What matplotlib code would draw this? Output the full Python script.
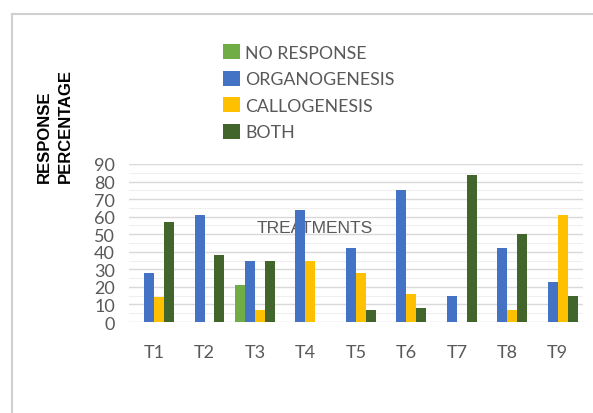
import matplotlib
matplotlib.use("Agg")
import matplotlib.pyplot as plt
import numpy as np
from matplotlib.lines import Line2D
from matplotlib.ticker import MultipleLocator

# response percentage per treatment
treatments = ["T1", "T2", "T3", "T4", "T5", "T6", "T7", "T8", "T9"]
no_response = [0, 0, 21, 0, 0, 0, 0, 0, 0]
organogenesis = [28, 61, 35, 64, 42, 75, 15, 42, 23]
callogenesis = [14, 0, 7, 35, 28, 16, 0, 7, 61]
both = [57, 38, 35, 0, 7, 8, 84, 50, 15]

series = [
    ("NO RESPONSE", no_response, "#70ad47"),
    ("ORGANOGENESIS", organogenesis, "#4472c4"),
    ("CALLOGENESIS", callogenesis, "#ffc000"),
    ("BOTH", both, "#41652a"),
]

W, H = 593, 414
GRAY = "#595959"
fig = plt.figure(figsize=(W / 100, H / 100), dpi=100)
ax = fig.add_axes([128.8 / W, 1 - 323 / H, 454.2 / W, 158 / H])

x = np.arange(len(treatments))
bw = 0.198
for k, (name, vals, col) in enumerate(series):
    ax.bar(x + (k - 1.5) * bw, vals, bw, color=col, label=name, zorder=3)

ax.set_xlim(-0.5, len(treatments) - 0.5)
ax.set_ylim(0, 90)
ax.yaxis.set_major_locator(MultipleLocator(10))
ax.yaxis.set_minor_locator(MultipleLocator(5))
ax.grid(axis="y", which="major", color="#d9d9d9", lw=1.0, zorder=0)
ax.grid(axis="y", which="minor", color="#efefef", lw=0.8, zorder=0)
ax.set_axisbelow(True)
for s in ax.spines.values():
    s.set_visible(False)
ax.set_xticks(x)
ax.set_xticklabels(treatments)
ax.tick_params(axis="both", which="both", length=0, colors=GRAY, labelsize=13)
ax.tick_params(axis="x", pad=16)
ax.tick_params(axis="y", pad=10)
for lbl in ax.get_xticklabels() + ax.get_yticklabels():
    lbl.set_fontfamily("Lato")

# axis title sits inside the plot, behind the bars
ax.text(0.41, 0.60, "TREATMENTS", transform=ax.transAxes, ha="center",
        va="center", fontsize=12.5, color=GRAY, family="Liberation Sans",
        zorder=1)

fig.text(55 / W, 1 - 183 / H, "RESPONSE\nPERCENTAGE", rotation=90,
         ha="center", va="bottom", multialignment="left", fontsize=12,
         fontweight="bold", family="Liberation Sans", linespacing=1.55)

leg = fig.legend(loc="upper left", bbox_to_anchor=(207 / W, 1 - 29 / H),
                 frameon=False, handlelength=0.95, handleheight=0.95,
                 handletextpad=0.3, labelspacing=0.55,
                 prop={"family": "Lato", "size": 12.8})
for t in leg.get_texts():
    t.set_color(GRAY)

# chart frame (top and left edges)
fig.add_artist(Line2D([12 / W, 1], [1 - 15 / H] * 2, color="#cfcfcf", lw=1.5))
fig.add_artist(Line2D([12 / W] * 2, [0, 1 - 15 / H], color="#cfcfcf", lw=1.5))

fig.savefig("out.png", dpi=100)
